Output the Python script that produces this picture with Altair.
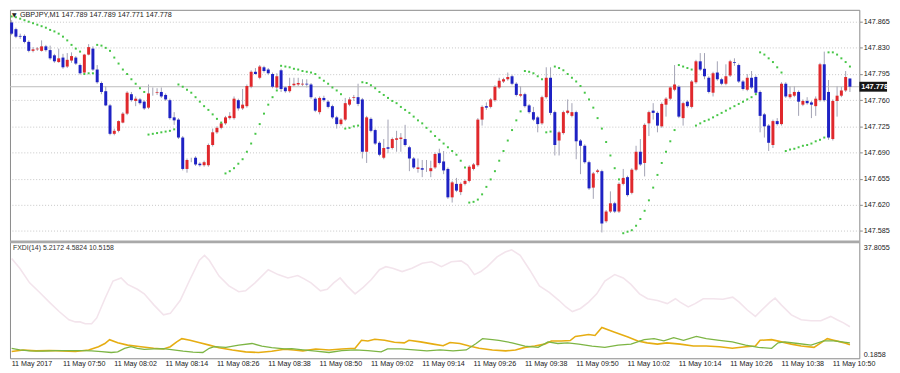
import altair as alt
import numpy as np
import pandas as pd

# ---------------- data ----------------
opens = [
    147.864, 147.855, 147.846, 147.846, 147.838, 147.826, 147.828, 147.826, 147.832, 147.827,
    147.820, 147.811, 147.817, 147.805, 147.813, 147.817, 147.807, 147.797, 147.821, 147.829,
    147.801, 147.783, 147.772, 147.753, 147.715, 147.719, 147.730, 147.742, 147.768, 147.759,
    147.761, 147.758, 147.750, 147.770, 147.770, 147.771, 147.767, 147.760, 147.737, 147.734,
    147.710, 147.668, 147.680, 147.683, 147.675, 147.673, 147.673, 147.700, 147.717, 147.723,
    147.729, 147.736, 147.736, 147.760, 147.749, 147.752, 147.778, 147.798, 147.790, 147.804,
    147.801, 147.795, 147.777, 147.800, 147.777, 147.772, 147.780, 147.781, 147.781, 147.782,
    147.781, 147.762, 147.744, 147.763, 147.758, 147.752, 147.737, 147.728, 147.734, 147.754,
    147.763, 147.764, 147.761, 147.691, 147.735, 147.720, 147.703, 147.683, 147.697, 147.696,
    147.707, 147.708, 147.708, 147.697, 147.682, 147.668, 147.669, 147.668, 147.665, 147.670,
    147.689, 147.678, 147.668, 147.630, 147.648, 147.637, 147.648, 147.652, 147.668, 147.673,
    147.734, 147.752, 147.751, 147.760, 147.777, 147.785, 147.788, 147.792, 147.782, 147.766,
    147.768, 147.753, 147.744, 147.737, 147.729, 147.764, 147.790, 147.744, 147.706, 147.716,
    147.743, 147.739, 147.744, 147.706, 147.699, 147.677, 147.643, 147.664, 147.665, 147.598,
    147.611, 147.622, 147.611, 147.648, 147.657, 147.636, 147.667, 147.691, 147.676, 147.729,
    147.746, 147.743, 147.725, 147.754, 147.762, 147.774, 147.778, 147.736, 147.758, 147.751,
    147.784, 147.812, 147.802, 147.790, 147.770, 147.797, 147.788, 147.782, 147.793, 147.811,
    147.807, 147.785, 147.774, 147.790, 147.791, 147.771, 147.741, 147.726, 147.700, 147.732,
    147.728, 147.782, 147.764, 147.766, 147.771, 147.754, 147.759, 147.757, 147.752, 147.760,
    147.808, 147.771, 147.708, 147.759, 147.766, 147.773, 147.789,
]
highs = [
    147.867, 147.857, 147.849, 147.848, 147.840, 147.831, 147.831, 147.840, 147.834, 147.833,
    147.822, 147.829, 147.822, 147.823, 147.824, 147.819, 147.809, 147.822, 147.835, 147.832,
    147.807, 147.785, 147.779, 147.755, 147.722, 147.733, 147.744, 147.772, 147.771, 147.765,
    147.763, 147.760, 147.781, 147.777, 147.776, 147.777, 147.769, 147.762, 147.744, 147.736,
    147.712, 147.682, 147.683, 147.685, 147.677, 147.679, 147.702, 147.722, 147.725, 147.731,
    147.739, 147.744, 147.765, 147.762, 147.775, 147.781, 147.800, 147.803, 147.807, 147.806,
    147.803, 147.797, 147.796, 147.802, 147.779, 147.790, 147.790, 147.790, 147.788, 147.788,
    147.783, 147.764, 147.765, 147.766, 147.760, 147.754, 147.739, 147.736, 147.763, 147.764,
    147.767, 147.782, 147.763, 147.739, 147.737, 147.722, 147.705, 147.708, 147.734, 147.710,
    147.719, 147.716, 147.727, 147.699, 147.684, 147.682, 147.680, 147.680, 147.679, 147.690,
    147.695, 147.692, 147.670, 147.652, 147.656, 147.650, 147.654, 147.673, 147.676, 147.736,
    147.753, 147.757, 147.763, 147.780, 147.790, 147.790, 147.797, 147.794, 147.784, 147.779,
    147.770, 147.755, 147.751, 147.739, 147.766, 147.804, 147.804, 147.746, 147.719, 147.746,
    147.761, 147.756, 147.746, 147.708, 147.701, 147.679, 147.664, 147.668, 147.667, 147.613,
    147.638, 147.624, 147.650, 147.668, 147.659, 147.669, 147.699, 147.708, 147.729, 147.746,
    147.756, 147.745, 147.757, 147.764, 147.779, 147.807, 147.780, 147.758, 147.760, 147.787,
    147.814, 147.823, 147.823, 147.792, 147.798, 147.812, 147.790, 147.808, 147.814, 147.816,
    147.809, 147.787, 147.795, 147.799, 147.793, 147.773, 147.743, 147.728, 147.734, 147.736,
    147.784, 147.784, 147.779, 147.779, 147.773, 147.761, 147.764, 147.759, 147.765, 147.810,
    147.825, 147.787, 147.761, 147.779, 147.778, 147.799, 147.789,
]
lows = [
    147.847, 147.843, 147.842, 147.836, 147.824, 147.824, 147.826, 147.825, 147.825, 147.814,
    147.810, 147.810, 147.802, 147.803, 147.810, 147.807, 147.794, 147.795, 147.820, 147.799,
    147.782, 147.768, 147.752, 147.713, 147.713, 147.717, 147.729, 147.740, 147.758, 147.752,
    147.754, 147.747, 147.748, 147.766, 147.767, 147.763, 147.759, 147.734, 147.727, 147.708,
    147.666, 147.663, 147.677, 147.672, 147.671, 147.671, 147.671, 147.698, 147.715, 147.721,
    147.727, 147.734, 147.734, 147.746, 147.747, 147.750, 147.776, 147.794, 147.788, 147.797,
    147.794, 147.776, 147.775, 147.771, 147.770, 147.770, 147.778, 147.779, 147.779, 147.777,
    147.762, 147.744, 147.741, 147.758, 147.749, 147.735, 147.722, 147.726, 147.732, 147.752,
    147.759, 147.752, 147.682, 147.676, 147.717, 147.700, 147.685, 147.681, 147.689, 147.694,
    147.691, 147.691, 147.698, 147.665, 147.668, 147.663, 147.657, 147.664, 147.657, 147.668,
    147.674, 147.661, 147.628, 147.623, 147.637, 147.633, 147.646, 147.650, 147.666, 147.671,
    147.726, 147.747, 147.749, 147.758, 147.775, 147.783, 147.786, 147.780, 147.765, 147.764,
    147.750, 147.742, 147.732, 147.717, 147.727, 147.762, 147.740, 147.686, 147.686, 147.714,
    147.741, 147.737, 147.681, 147.661, 147.675, 147.640, 147.628, 147.662, 147.583, 147.596,
    147.609, 147.609, 147.609, 147.646, 147.631, 147.634, 147.665, 147.672, 147.658, 147.712,
    147.734, 147.717, 147.723, 147.738, 147.760, 147.772, 147.736, 147.726, 147.750, 147.749,
    147.782, 147.799, 147.788, 147.769, 147.765, 147.786, 147.780, 147.780, 147.791, 147.806,
    147.783, 147.773, 147.772, 147.775, 147.768, 147.717, 147.710, 147.692, 147.696, 147.726,
    147.726, 147.763, 147.762, 147.764, 147.739, 147.752, 147.754, 147.736, 147.739, 147.758,
    147.758, 147.707, 147.706, 147.738, 147.764, 147.771, 147.771,
]
closes = [
    147.849, 147.845, 147.845, 147.838, 147.826, 147.828, 147.829, 147.832, 147.827, 147.816,
    147.812, 147.816, 147.804, 147.814, 147.819, 147.809, 147.796, 147.821, 147.831, 147.801,
    147.784, 147.771, 147.753, 147.715, 147.719, 147.732, 147.742, 147.770, 147.760, 147.762,
    147.756, 147.749, 147.769, 147.770, 147.771, 147.765, 147.761, 147.736, 147.733, 147.710,
    147.668, 147.680, 147.680, 147.674, 147.673, 147.677, 147.700, 147.717, 147.723, 147.729,
    147.737, 147.739, 147.762, 147.749, 147.754, 147.779, 147.798, 147.795, 147.805, 147.799,
    147.796, 147.778, 147.792, 147.775, 147.772, 147.779, 147.782, 147.783, 147.782, 147.781,
    147.764, 147.746, 147.763, 147.760, 147.751, 147.737, 147.728, 147.734, 147.756, 147.761,
    147.764, 147.755, 147.691, 147.737, 147.719, 147.702, 147.687, 147.696, 147.695, 147.708,
    147.709, 147.710, 147.700, 147.682, 147.670, 147.670, 147.667, 147.668, 147.669, 147.688,
    147.676, 147.666, 147.630, 147.650, 147.639, 147.648, 147.652, 147.671, 147.674, 147.734,
    147.751, 147.750, 147.761, 147.778, 147.786, 147.788, 147.791, 147.782, 147.767, 147.768,
    147.752, 147.744, 147.734, 147.728, 147.764, 147.790, 147.743, 147.700, 147.717, 147.744,
    147.746, 147.744, 147.705, 147.699, 147.677, 147.642, 147.662, 147.666, 147.595, 147.611,
    147.622, 147.611, 147.648, 147.656, 147.633, 147.667, 147.691, 147.674, 147.727, 147.744,
    147.743, 147.726, 147.755, 147.762, 147.777, 147.781, 147.738, 147.756, 147.752, 147.785,
    147.812, 147.801, 147.792, 147.771, 147.796, 147.788, 147.782, 147.792, 147.812, 147.810,
    147.785, 147.775, 147.790, 147.777, 147.770, 147.739, 147.725, 147.703, 147.732, 147.728,
    147.782, 147.765, 147.768, 147.771, 147.758, 147.759, 147.756, 147.754, 147.762, 147.808,
    147.760, 147.710, 147.759, 147.766, 147.773, 147.791, 147.778,
]
# Parabolic SAR, one dot per bar
sar = [
    147.872, 147.871, 147.869, 147.867, 147.865, 147.863, 147.861, 147.859, 147.857, 147.854,
    147.852, 147.849, 147.845, 147.840, 147.834, 147.829, 147.825,
    147.795, 147.796, 147.796,
    147.834, 147.833, 147.830, 147.826, 147.817, 147.809, 147.801, 147.795, 147.788, 147.782,
    147.776, 147.771,
    147.714, 147.715, 147.716, 147.717, 147.718, 147.719, 147.721,
    147.781, 147.778, 147.774, 147.770, 147.764, 147.758, 147.752, 147.747, 147.741, 147.735,
    147.730,
    147.662, 147.665, 147.669, 147.675, 147.681, 147.691, 147.702, 147.715, 147.728, 147.742,
    147.754, 147.764, 147.773,
    147.806, 147.805, 147.804, 147.802, 147.801, 147.799, 147.798, 147.797, 147.795, 147.790,
    147.786, 147.782, 147.777, 147.773, 147.768,
    147.722, 147.723, 147.725, 147.726,
    147.784, 147.783, 147.780, 147.776, 147.771, 147.767, 147.763, 147.759, 147.756, 147.751,
    147.747, 147.743, 147.738, 147.733, 147.729, 147.723, 147.718, 147.712, 147.707, 147.702,
    147.697, 147.692, 147.687, 147.679, 147.670,
    147.623, 147.624, 147.627, 147.634, 147.644, 147.654, 147.665, 147.679, 147.692, 147.706,
    147.720, 147.733, 147.745,
    147.799, 147.798, 147.796, 147.792, 147.788,
    147.717, 147.718,
    147.805, 147.803, 147.800, 147.795, 147.790, 147.785, 147.779, 147.770, 147.761, 147.750,
    147.736, 147.722, 147.704, 147.686, 147.669, 147.654,
    147.582, 147.584, 147.586, 147.592, 147.601, 147.612, 147.626, 147.643, 147.660, 147.676,
    147.691, 147.705, 147.720,
    147.807, 147.805, 147.803, 147.801,
    147.726, 147.729, 147.732, 147.734, 147.737, 147.740, 147.743, 147.746, 147.749, 147.752,
    147.755, 147.758, 147.761, 147.764, 147.768,
    147.824, 147.821, 147.816, 147.811, 147.804, 147.797,
    147.692, 147.694, 147.695, 147.697, 147.699, 147.700, 147.702, 147.705, 147.707, 147.710,
    147.824, 147.824, 147.821, 147.816, 147.811, 147.805,
]

# FXDI(14) sub-window lines (bar position, value)
pink_i = [0, 1.9, 4.2, 6.5, 8.8, 11.1, 13.4, 14.9, 16.0, 17.2,
          18.7, 19.9, 21.8, 23.7, 25.6, 27.1, 29.4, 31.0, 33.3, 35.5,
          37.1, 39.4, 41.7, 43.9, 45.1, 46.2, 48.5, 50.8, 53.1, 54.7,
          56.9, 60.0, 62.3, 64.6, 66.9, 68.4, 70.0, 72.2, 73.8, 75.3,
          76.8, 78.4, 80.3, 82.2, 84.1, 86.0, 87.5, 89.1, 91.3, 93.6,
          96.0, 98.2, 100.5, 102.8, 105.1, 106.6, 108.2, 109.7, 111.2, 113.5,
          115.4, 116.9, 118.9, 121.1, 123.4, 125.7, 128.0, 129.6, 131.1, 133.0,
          134.9, 136.8, 138.7, 141.0, 143.0, 144.8, 146.8, 148.7, 151.0, 153.3,
          155.2, 156.3, 158.2, 159.8, 161.7, 164.0, 166.3, 168.6, 170.1, 172.0,
          173.9, 175.4, 177.3, 178.5, 180.0, 182.3, 184.6, 186.9, 189.2, 191.5,
          193.0, 194.5, 196.0]
pink_v = [32.9, 29.7, 24.9, 21.8, 18.6, 15.5, 12.8, 12.1, 12.1, 11.5,
          11.5, 13.4, 19.7, 25.5, 26.5, 24.4, 22.8, 21.3, 17.6, 14.4,
          14.9, 19.1, 26.0, 32.3, 33.9, 32.3, 27.1, 23.9, 22.0, 22.3,
          24.9, 29.2, 27.6, 26.5, 27.3, 26.2, 24.9, 22.3, 22.8, 24.9,
          26.5, 23.9, 21.3, 23.4, 26.0, 29.2, 30.2, 29.7, 28.6, 29.7,
          31.3, 31.8, 30.2, 31.8, 32.1, 30.7, 27.6, 28.6, 30.2, 33.4,
          35.0, 35.7, 33.9, 29.2, 23.9, 21.8, 19.1, 17.0, 15.5, 16.5,
          18.6, 21.3, 25.5, 27.6, 26.5, 24.4, 21.3, 19.7, 19.1, 18.1,
          19.7, 18.6, 17.0, 18.1, 19.7, 19.7, 19.5, 20.2, 18.6, 16.0,
          13.9, 16.0, 18.6, 19.9, 17.6, 14.4, 12.8, 12.5, 12.5, 13.9,
          12.8, 11.8, 10.52]
orange_i = [0, 2.7, 5.7, 8.8, 11.8, 14.9, 18.0, 20.3, 21.8, 22.9,
            24.8, 27.1, 30.2, 33.2, 35.5, 37.1, 38.6, 39.8, 41.7, 44.0,
            46.2, 48.5, 51.6, 54.7, 57.7, 60.8, 63.8, 66.0, 68.1, 71.1,
            74.2, 77.2, 80.3, 81.8, 83.3, 84.9, 87.2, 89.5, 91.8, 92.9,
            95.6, 98.6, 100.9, 102.5, 104.8, 107.0, 109.3, 112.4, 115.5, 117.8,
            120.0, 122.3, 124.6, 126.2, 128.5, 130.6, 131.8, 133.4, 134.9, 136.4,
            138.0, 141.0, 144.1, 146.4, 148.6, 151.0, 153.2, 156.3, 159.4, 162.4,
            165.5, 168.5, 171.6, 173.9, 175.0, 177.7, 180.0, 182.3, 184.6, 187.6,
            189.2, 190.7, 192.2, 193.8, 195.0, 196.0]
orange_v = [2.39, 2.92, 2.60, 2.71, 2.60, 2.39, 2.92, 3.97, 5.03, 6.29,
            5.24, 4.50, 3.97, 3.45, 3.24, 3.97, 5.56, 6.61, 6.08, 5.24,
            4.50, 3.66, 2.92, 2.29, 2.08, 2.50, 3.13, 2.90, 2.60, 3.24,
            2.92, 3.24, 3.45, 6.08, 5.87, 6.40, 6.08, 5.45, 5.24, 6.08,
            5.56, 4.82, 4.29, 5.34, 5.03, 4.19, 3.45, 2.92, 2.60, 2.92,
            3.76, 4.19, 4.82, 5.87, 5.87, 6.00, 7.35, 7.66, 7.98, 7.66,
            10.30, 8.72, 7.14, 5.87, 5.24, 4.82, 5.24, 4.82, 4.19, 4.19,
            3.97, 3.45, 3.97, 4.19, 6.08, 6.29, 5.56, 4.82, 4.19, 3.76,
            5.24, 6.61, 6.08, 5.56, 5.10, 4.58]
green_i = [0, 1.9, 4.2, 7.3, 10.3, 13.4, 16.4, 18.7, 21.0, 23.3,
           24.8, 26.4, 27.9, 29.4, 31.0, 33.3, 35.5, 37.8, 40.1, 42.4,
           44.7, 46.2, 47.4, 50.1, 53.1, 56.2, 58.5, 60.8, 63.8, 65.5,
           68.1, 71.1, 74.2, 77.2, 80.3, 83.3, 86.4, 87.9, 91.0, 94.1,
           97.1, 100.2, 103.2, 106.3, 108.6, 110.1, 112.4, 113.9, 117.0, 120.0,
           123.1, 125.4, 127.7, 130.0, 132.6, 135.7, 138.7, 141.8, 144.8, 147.9,
           150.2, 152.5, 154.8, 157.1, 160.1, 162.4, 165.5, 168.5, 171.6, 174.6,
           177.7, 179.2, 180.8, 183.8, 186.9, 189.9, 192.2, 194.1, 196.0]
green_v = [3.45, 2.92, 2.60, 2.50, 2.71, 2.71, 2.71, 2.60, 2.39, 2.08,
           2.29, 3.45, 3.97, 3.45, 3.13, 3.24, 3.34, 2.92, 2.50, 2.18,
           2.08, 3.45, 3.97, 3.76, 4.50, 5.03, 4.19, 3.66, 3.24, 3.35,
           2.92, 2.50, 2.08, 2.71, 2.92, 2.71, 2.29, 3.24, 3.24, 2.92,
           2.60, 2.92, 2.60, 2.92, 5.03, 6.61, 6.29, 6.08, 5.24, 4.19,
           3.76, 5.56, 5.03, 5.24, 4.82, 4.19, 3.76, 4.50, 4.82, 6.29,
           6.61, 5.87, 6.93, 6.08, 7.35, 6.61, 6.08, 5.56, 4.50, 3.76,
           3.45, 5.24, 5.56, 5.03, 4.50, 5.87, 5.87, 5.56, 5.22]

price_ticks = [147.585, 147.620, 147.655, 147.690, 147.725, 147.760, 147.795, 147.830, 147.865]
ind_ticks = [0.1858, 37.8055]
time_tick_i = [0, 12, 24, 36, 48, 60, 72, 84, 96, 108, 120, 132, 144, 156, 168, 180, 192]
time_labels = ["11 May 2017", "11 May 07:50", "11 May 08:02", "11 May 08:14", "11 May 08:26",
               "11 May 08:38", "11 May 08:50", "11 May 09:02", "11 May 09:14", "11 May 09:26",
               "11 May 09:38", "11 May 09:50", "11 May 10:02", "11 May 10:14", "11 May 10:26",
               "11 May 10:38", "11 May 10:50"]
grid_i = list(range(0, 197, 6))
last_price = ["147.778"]
header = "GBPJPY,M1  147.789 147.789 147.771 147.778"
ind_header = "FXDI(14) 5.2172 4.5824 10.5158"

# ---------------- chart ----------------
W, H = 858, 352
FONT = "Liberation Sans"
RED, BLUE = "#e0282c", "#1e22c4"

df = pd.DataFrame({"i": range(len(opens)), "open": opens, "high": highs,
                   "low": lows, "close": closes, "sar": sar})
df["dir"] = np.where(df["close"] >= df["open"], "up", "down")

xs = alt.Scale(domain=[-0.39, 198.2], nice=False, zero=False)
ps = alt.Scale(domain=[147.585, 147.865], range=[223.4, 12.0], nice=False, zero=False)
iscale = alt.Scale(domain=[0.1858, 37.8055], range=[352, 236], nice=False, zero=False)

x_axis = alt.Axis(values=grid_i, grid=True, gridColor="#c6c6c6", gridDash=[1, 2],
                  labels=False, ticks=False, domain=False, title=None)
p_axis = alt.Axis(orient="right", values=price_ticks, format=".3f", grid=True,
                  gridColor="#c6c6c6", gridDash=[1, 2], domain=False, tickSize=3,
                  tickColor="#8a8a8a", labelPadding=1, labelFont=FONT, labelFontSize=7.3,
                  labelColor="#222222", title=None)
i_axis = alt.Axis(orient="right", values=ind_ticks, format=".4f", grid=False, domain=False,
                  ticks=False, labelPadding=4, labelFlush=True, labelFont=FONT,
                  labelFontSize=7.3, labelColor="#222222", title=None)

X = lambda ax=None: alt.X("i:Q", scale=xs, axis=ax)

wick = alt.Chart(df).mark_rule(color="#a2a2b4", strokeWidth=1).encode(
    x=X(x_axis), y=alt.Y("low:Q", scale=ps, axis=p_axis), y2="high:Q")
body = alt.Chart(df).mark_rule(strokeWidth=3).encode(
    x=X(), y=alt.Y("open:Q", scale=ps, axis=None), y2="close:Q",
    color=alt.Color("dir:N", scale=alt.Scale(domain=["up", "down"], range=[RED, BLUE]), legend=None))
sar_pts = alt.Chart(df).mark_square(size=4, color="#46c646", opacity=1).encode(
    x=X(), y=alt.Y("sar:Q", scale=ps, axis=None))

pdf = pd.DataFrame({"p": [float(last_price[0])], "label": last_price})
price_line = alt.Chart(pdf).mark_rule(color="#bcbcbc", strokeWidth=1).encode(
    y=alt.Y("p:Q", scale=ps, axis=None))
price_box = alt.Chart(pdf).mark_rule(color="#161616", strokeWidth=10).encode(
    y=alt.Y("p:Q", scale=ps, axis=None), x=alt.value(W), x2=alt.value(W + 28))
price_txt = alt.Chart(pdf).mark_text(align="left", baseline="middle", color="white",
                                     font=FONT, fontSize=7.5, fontWeight="bold").encode(
    y=alt.Y("p:Q", scale=ps, axis=None), x=alt.value(W + 2), text="label:N")

pink = alt.Chart(pd.DataFrame({"i": pink_i, "v": pink_v})).mark_line(
    color="#f3e4ec", strokeWidth=1.6).encode(x=X(), y=alt.Y("v:Q", scale=iscale, axis=i_axis))
orange = alt.Chart(pd.DataFrame({"i": orange_i, "v": orange_v})).mark_line(
    color="#e6ad12", strokeWidth=1.6).encode(x=X(), y=alt.Y("v:Q", scale=iscale, axis=None))
green = alt.Chart(pd.DataFrame({"i": green_i, "v": green_v})).mark_line(
    color="#7db544", strokeWidth=1.3).encode(x=X(), y=alt.Y("v:Q", scale=iscale, axis=None))

sep = alt.Chart(pd.DataFrame({"a": [0]})).mark_rule(color="#a9a9a9", strokeWidth=2.6).encode(
    y=alt.value(234.4))

tdf = pd.DataFrame({"i": time_tick_i, "t": time_labels})
time_txt = alt.Chart(tdf).mark_text(align="left", baseline="middle", font=FONT,
                                    fontSize=7.2, color="#222222").encode(
    x=X(), y=alt.value(358), text="t:N")

hdr = alt.Chart(pd.DataFrame({"t": [header]})).mark_text(
    align="left", baseline="middle", font=FONT, fontSize=7.3, color="#222222").encode(
    x=alt.value(10), y=alt.value(5), text="t:N")
tri = alt.Chart(pd.DataFrame({"t": ["▼"]})).mark_text(
    align="left", baseline="middle", font="DejaVu Sans", fontSize=6, color="#222222").encode(
    x=alt.value(2), y=alt.value(5), text="t:N")
ind_hdr = alt.Chart(pd.DataFrame({"t": [ind_header]})).mark_text(
    align="left", baseline="middle", font=FONT, fontSize=7, color="#333333").encode(
    x=alt.value(3), y=alt.value(240.5), text="t:N")

chart = alt.layer(
    wick, pink, orange, green, price_line, body, sar_pts, sep,
    price_box, price_txt, time_txt, hdr, tri, ind_hdr
).resolve_scale(y="independent", color="independent").properties(
    width=W, height=H, padding=0, background="white"
).configure_view(stroke="#8a8a8a", strokeWidth=1)

chart.save("out.html", embed_options={"renderer": "svg", "actions": False})
